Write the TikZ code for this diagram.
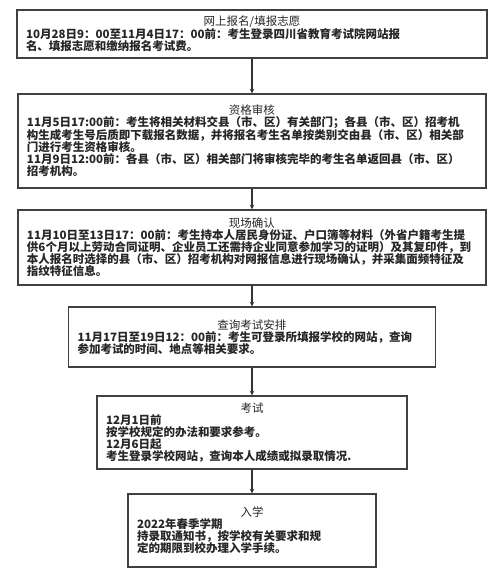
\documentclass[tikz,border=0pt]{standalone}
\usepackage{fontspec}
\setmainfont{Noto Sans CJK SC}
\newcommand\steptitle[1]{\makebox[\linewidth]{\mdseries #1}\\}
\begin{document}
\begin{tikzpicture}[x=1pt,y=-1pt,
  stage/.style={draw=black!75, line width=1.1pt, inner xsep=9pt, inner ysep=2pt,
    align=left, text=black!85, font=\fontsize{11.5}{12}\selectfont\bfseries},
  flow/.style={-stealth, line width=1.1pt, draw=black!80}]
\useasboundingbox (0,0) rectangle (502,576);
\node[stage, minimum width=470pt, minimum height=48pt, text width=452pt] (sign) at (252,34) {\steptitle{网上报名/填报志愿}10月28日9：00至11月4日17：00前：考生登录四川省教育考试院网站报\\名、填报志愿和缴纳报名考试费。};
\node[stage, minimum width=468pt, minimum height=94pt, text width=450pt] (check) at (252,141) {\steptitle{资格审核}11月5日17:00前：考生将相关材料交县（市、区）有关部门；各县（市、区）招考机\\构生成考生号后质即下载报名数据，并将报名考生名单按类别交由县（市、区）相关部\\门进行考生资格审核。\\11月9日12:00前：各县（市、区）相关部门将审核完毕的考生名单返回县（市、区）\\招考机构。};
\node[stage, minimum width=468pt, minimum height=75pt, text width=450pt] (confirm) at (252,247.5) {\steptitle{现场确认}11月10日至13日17：00前：考生持本人居民身份证、户口簿等材料（外省户籍考生提\\供6个月以上劳动合同证明、企业员工还需持企业同意参加学习的证明）及其复印件，到\\本人报名时选择的县（市、区）招考机构对网报信息进行现场确认，并采集面频特征及\\指纹特征信息。};
\node[stage, minimum width=367pt, minimum height=60pt, text width=349pt] (query) at (252,337) {\steptitle{查询考试安排}11月17日至19日12：00前：考生可登录所填报学校的网站，查询\\参加考试的时间、地点等相关要求。};
\node[stage, minimum width=310pt, minimum height=73pt, text width=292pt] (exam) at (252,432.5) {\steptitle{考试}12月1日前\\按学校规定的办法和要求参考。\\12月6日起\\考生登录学校网站，查询本人成绩或拟录取情况.};
\node[stage, minimum width=248pt, minimum height=73pt, text width=230pt] (enrol) at (252,530.5) {\steptitle{入学}2022年春季学期\\持录取通知书，按学校有关要求和规\\定的期限到校办理入学手续。};
\draw[flow] (sign) -- (check);
\draw[flow] (check) -- (confirm);
\draw[flow] (confirm) -- (query);
\draw[flow] (query) -- (exam);
\draw[flow] (exam) -- (enrol);
\end{tikzpicture}
\end{document}
